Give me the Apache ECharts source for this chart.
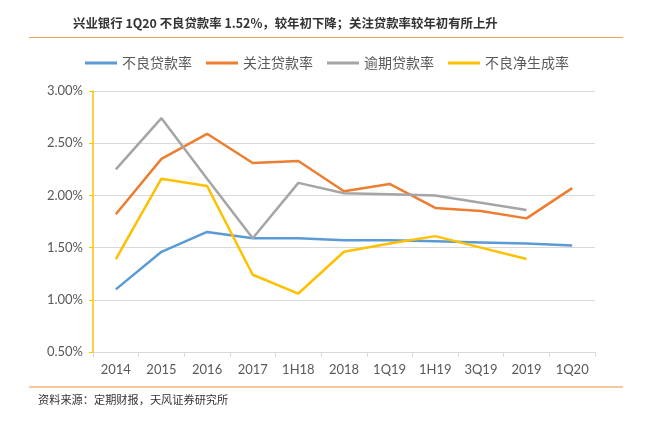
<!DOCTYPE html>
<html><head><meta charset="utf-8">
<script src="https://cdn.jsdelivr.net/npm/echarts@6/dist/echarts.min.js"></script>
<style>html,body{margin:0;padding:0;background:#fff}#c{width:646px;height:436px}</style>
</head><body><div id="c"></div>
<script>
var categories = ['2014','2015','2016','2017','1H18','2018','1Q19','1H19','3Q19','2019','1Q20'];
var nplRatio = [1.10,1.46,1.65,1.59,1.59,1.57,1.57,1.56,1.55,1.54,1.52];
var specialMention = [1.82,2.35,2.59,2.31,2.33,2.04,2.11,1.88,1.85,1.78,2.07];
var overdueRatio = [2.25,2.74,2.16,1.59,2.12,2.02,2.01,2.00,1.93,1.86,null];
var netNplFormation = [1.39,2.16,2.09,1.24,1.06,1.46,1.54,1.61,1.50,1.39,null];
var seriesNames = ['不良贷款率','关注贷款率','逾期贷款率','不良净生成率'];
var yTicks = [0.5,1.0,1.5,2.0,2.5,3.0];

var colors = ['#5B9BD5','#ED7D31','#A5A5A5','#FFC000'];
var chart = echarts.init(document.getElementById('c'));
var dataSets = [nplRatio, specialMention, overdueRatio, netNplFormation];
chart.setOption({
  animation:false,
  color: colors,
  textStyle:{fontFamily:'"Noto Sans CJK SC", Lato, sans-serif'},
  graphic:[
    {type:'text', left:73, top:17, style:{text:'兴业银行 1Q20 不良贷款率 1.52%，较年初下降；关注贷款率较年初有所上升', font:'bold 12.4px "Noto Sans CJK SC", sans-serif', fill:'#333'}},
    {type:'line', shape:{x1:29,y1:37.5,x2:623,y2:37.5}, style:{stroke:'#E9A550', lineWidth:1.2}},
    {type:'line', shape:{x1:29,y1:387,x2:623,y2:387}, style:{stroke:'#F6B47E', lineWidth:1.6}},
    {type:'text', left:38, top:394, style:{text:'资料来源：定期财报，天风证券研究所', font:'11.2px "Noto Sans CJK SC", sans-serif', fill:'#333'}}
  ],
  legend:{
    top:51, left:80, itemWidth:32, itemHeight:3, itemGap:14,
    icon:'rect',
    textStyle:{fontSize:14, color:'#595959', fontFamily:'"Noto Sans CJK SC", sans-serif'},
    data: seriesNames
  },
  grid:{left:93, right:51, top:91, bottom:84, containLabel:false},
  xAxis:{
    type:'category', data:categories, boundaryGap:true,
    axisLine:{lineStyle:{color:'#D9D9D9'}},
    axisTick:{show:true, lineStyle:{color:'#D9D9D9'}, length:5},
    axisLabel:{color:'#595959', fontSize:13, margin:11, fontFamily:'Lato, sans-serif'}
  },
  yAxis:{
    type:'value', min:0.5, max:3.0, interval:0.5,
    axisLine:{show:true, lineStyle:{color:'#FFC000', width:1.5}},
    axisTick:{show:true, length:4, lineStyle:{color:'#FFC000'}},
    splitLine:{lineStyle:{color:'#D9D9D9'}},
    axisLabel:{color:'#595959', fontSize:13, margin:10, fontFamily:'Lato, sans-serif',
      formatter:function(v){return v.toFixed(2)+'%';}}
  },
  series: seriesNames.map(function(n,i){
    return {name:n, type:'line', data:dataSets[i], symbol:'none', smooth:false,
      lineStyle:{width:2.5, color:colors[i]}, itemStyle:{color:colors[i]}};
  })
});
</script></body></html>
